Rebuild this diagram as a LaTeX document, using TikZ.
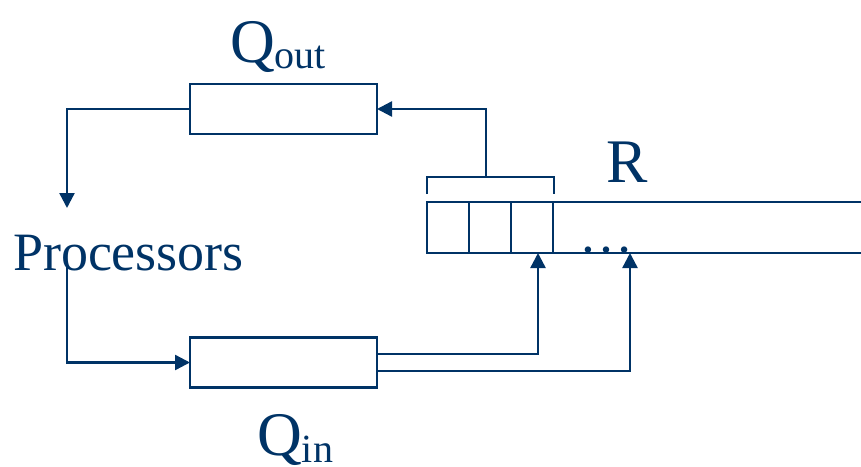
\documentclass[tikz,border=0pt]{standalone}
\usepackage{fontspec}
\setmainfont{Liberation Serif}
\usepackage{xcolor}
\usepackage{tikz}
\usetikzlibrary{arrows.meta,calc,positioning}
\definecolor{qnavy}{RGB}{0,51,102}
\tikzset{
  queue/.style={rectangle,draw=qnavy,line width=2.4pt,minimum width=187pt,minimum height=50pt,inner sep=0pt,outer sep=0pt},
  cell/.style={rectangle,draw=qnavy,line width=2.4pt,minimum width=42pt,minimum height=51pt,inner sep=0pt,outer sep=0pt},
  biglabel/.style={text=qnavy,inner sep=0pt,font=\fontsize{62}{62}\selectfont},
  sublabel/.style={font=\fontsize{40}{40}\selectfont},
  proclabel/.style={text=qnavy,inner sep=0pt,font=\fontsize{54}{54}\selectfont},
  wire/.style={draw=qnavy,line width=2.4pt},
  arr/.style={-{Triangle[length=15pt,width=15pt]},line width=2.4pt,draw=qnavy},
}
\begin{document}
\begin{tikzpicture}[x=1pt,y=-1pt]
  \useasboundingbox (0,0) rectangle (861,466);

  \node[queue] (qout) at (283.5,109) {};
  \node[queue] (qin) at (283.5,362.5) {};
  \node[biglabel,anchor=base west] (qoutlabel) at (230,62) {Q\raisebox{-6pt}{\fontsize{40}{40}\selectfont out}};
  \node[biglabel,anchor=base west] (qinlabel) at (257,455) {Q\raisebox{-7pt}{\fontsize{40}{40}\selectfont in}};
  \node[proclabel,anchor=base] (proc) at (128.5,270) {Processors};

  % array R
  \foreach \i/\x in {1/448,2/490,3/532}
    \node[cell] (c\i) at (\x,227.5) {};
  \coordinate (rtop) at (861,202);
  \coordinate (rbot) at (861,253);
  \draw[wire] (c3.north east) -- (rtop);
  \draw[wire] (c3.south east) -- (rbot);
  \node[proclabel,anchor=base] (dots) at (606,252) {\ldots};
  \node[biglabel,anchor=base] (rlabel) at (627,182) {R};

  % bracket over the first cells
  \coordinate (brl) at (427,194);
  \coordinate (brr) at (554,194);
  \coordinate (brk) at (486,177);
  \draw[wire] (brl) -- (427,177) -- (554,177) -- (brr);

  % connectors
  \coordinate (pin) at (67,208);
  \coordinate (pout) at (67,263);
  \coordinate (rin1) at (538,253);
  \coordinate (rin2) at (630,253);
  \draw[arr] (brk) |- (qout.east);
  \draw[arr] (qout.west) -| (pin);
  \draw[arr] (pout) |- (qin.west);
  \draw[arr] (377,354) -| (rin1);
  \draw[arr] (377,371) -| (rin2);
\end{tikzpicture}
\end{document}
